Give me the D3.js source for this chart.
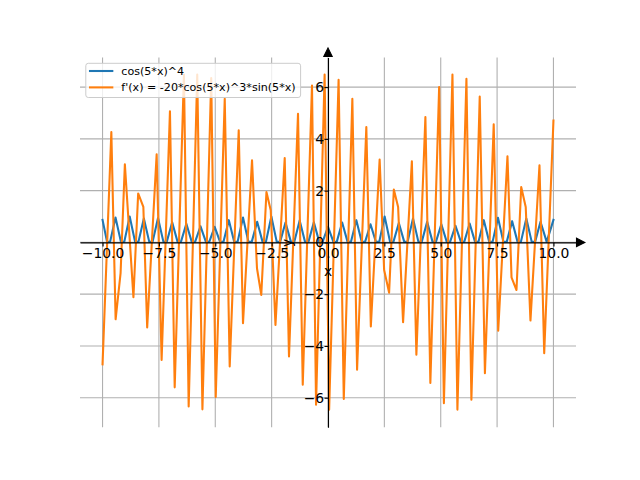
<!DOCTYPE html>
<html><head><meta charset="utf-8">
<script src="https://cdn.jsdelivr.net/npm/d3@7"></script>
<style>body{margin:0;background:#fff} svg{display:block} text{font-family:"DejaVu Sans",sans-serif}</style>
</head><body><svg id="c" width="640" height="480"></svg>
<script>
// ---- data ----
const blueX = [-10,-9.80,-9.665,-9.425,-9.185,-9.036,-8.796,-8.556,-8.408,-8.168,-7.928,-7.78,-7.54,-7.30,-7.152,-6.912,-6.672,-6.523,-6.283,-6.043,-5.895,-5.655,-5.415,-5.267,-5.027,-4.787,-4.638,-4.398,-4.158,-4.01,-3.77,-3.53,-3.382,-3.142,-2.902,-2.753,-2.513,-2.273,-2.125,-1.885,-1.645,-1.497,-1.257,-1.017,-0.868,-0.628,-0.388,-0.24,0,0.24,0.388,0.628,0.868,1.017,1.257,1.497,1.645,1.885,2.125,2.273,2.513,2.753,2.902,3.142,3.382,3.53,3.77,4.01,4.158,4.398,4.638,4.787,5.027,5.267,5.415,5.655,5.895,6.043,6.283,6.523,6.672,6.912,7.152,7.30,7.54,7.78,7.928,8.168,8.408,8.556,8.796,9.036,9.185,9.425,9.70,10];
const blueY = [0.87,0.02,0.02,0.96,0.02,0.02,1.0,0.02,0.02,0.92,0.02,0.02,0.94,0.02,0.02,0.78,0.02,0.02,0.72,0.02,0.02,0.62,0.02,0.02,0.60,0.02,0.02,0.86,0.02,0.02,0.96,0.02,0.02,0.80,0.02,0.02,1.0,0.02,0.02,0.77,0.02,0.02,0.85,0.02,0.02,0.78,0.02,0.02,0.60,0.02,0.02,0.77,0.02,0.02,0.86,0.02,0.02,0.70,0.02,0.02,1.0,0.02,0.02,0.75,0.02,0.02,0.92,0.02,0.02,0.80,0.02,0.02,0.70,0.02,0.02,0.64,0.02,0.02,0.73,0.02,0.02,0.86,0.02,0.02,0.95,0.02,0.02,0.82,0.02,0.02,0.92,0.02,0.02,0.80,0.02,0.87];
const orangeX = [-10,-9.61,-9.42,-9.20,-9.01,-8.63,-8.42,-8.19,-8.02,-7.60,-7.38,-7.01,-6.80,-6.39,-6.18,-5.80,-5.57,-5.18,-4.98,-4.58,-4.36,-3.96,-3.77,-3.37,-3.15,-2.96,-2.73,-2.54,-2.33,-1.92,-1.73,-1.33,-1.12,-0.71,-0.53,-0.15,0.05,0.47,0.70,1.08,1.29,1.70,1.90,2.29,2.49,2.71,2.92,3.11,3.33,3.72,3.92,4.32,4.54,4.93,5.14,5.52,5.74,6.14,6.36,6.73,6.96,7.35,7.55,7.96,8.14,8.36,8.57,8.77,8.98,9.38,9.59,10];
const orangeY = [-4.71,4.26,-2.97,-1.19,3.02,-2.12,1.89,1.37,-3.29,3.40,-4.54,5.07,-5.60,6.49,-6.34,6.49,-6.45,6.35,-5.97,5.55,-4.79,4.33,-3.12,3.17,-1.00,-2.03,1.95,1.24,-3.19,3.26,-4.41,4.97,-5.50,6.06,-6.27,6.49,-6.46,6.28,-6.05,5.55,-4.92,4.46,-3.25,3.20,-1.07,-1.94,2.04,1.37,-3.08,3.13,-4.34,4.84,-5.43,6.00,-6.21,6.49,-6.46,6.32,-6.08,5.64,-5.05,4.56,-3.41,3.33,-1.35,-1.84,2.14,1.37,-3.02,2.98,-4.28,4.71];
const xTicks = [-10,-7.5,-5,-2.5,0,2.5,5,7.5,10];
const yTicks = [-6,-4,-2,0,2,4,6];
const seriesNames = ["cos(5*x)^4", "f'(x) = -20*cos(5*x)^3*sin(5*x)"];
const seriesColors = ["#1f77b4", "#ff7f0e"];

const svg = d3.select('#c');
const L = 80, R = 576, T = 57.6, B = 427.2;
const x = d3.scaleLinear().domain([-11, 11]).range([L, R]);
const y = d3.scaleLinear().domain([-7.14, 7.14]).range([B, T]);

// grid
const grid = svg.append('g');
grid.selectAll('line.v').data(xTicks).join('line').attr('class','v')
  .attr('x1', d => x(d)).attr('x2', d => x(d)).attr('y1', T).attr('y2', B)
  .attr('stroke', '#b0b0b0').attr('stroke-width', 1.1);
grid.selectAll('line.h').data(yTicks).join('line').attr('class','h')
  .attr('x1', L).attr('x2', R).attr('y1', d => y(d)).attr('y2', d => y(d))
  .attr('stroke', '#b0b0b0').attr('stroke-width', 1.1);

// lines
const line = (X, Y) => d3.line().x(i => x(X[i])).y(i => y(Y[i]))(d3.range(X.length));
svg.append('path').attr('d', line(blueX, blueY)).attr('fill','none')
  .attr('stroke', seriesColors[0]).attr('stroke-width', 2.08).attr('stroke-linejoin','round').attr('stroke-linecap','square');
svg.append('path').attr('d', line(orangeX, orangeY)).attr('fill','none')
  .attr('stroke', seriesColors[1]).attr('stroke-width', 2.08).attr('stroke-linejoin','round').attr('stroke-linecap','square');

// axes through zero
const xAxis = d3.axisBottom(x).tickValues(xTicks).tickFormat(d3.format('.1f')).tickSize(4).tickSizeOuter(0).tickPadding(1.3);
const gx = svg.append('g').attr('transform', `translate(0,${y(0)})`).call(xAxis);
const yAxis = d3.axisLeft(y).tickValues(yTicks).tickFormat(d3.format('d')).tickSize(3.5).tickSizeOuter(0).tickPadding(0.3);
const gy = svg.append('g').attr('transform', `translate(${x(0)},0)`).call(yAxis);
[gx, gy].forEach(g => {
  g.attr('font-family', null).attr('font-size', null);
  g.select('.domain').attr('stroke', '#000').attr('stroke-width', 1.1);
  g.selectAll('.tick line').attr('stroke', '#000').attr('stroke-width', 1.1);
  g.selectAll('.tick text').attr('fill', '#000').style('font-size', '13.9px').style('font-family', '"DejaVu Sans"');
});

// arrow heads
svg.append('path').attr('d', `M${R+0.5},${y(0)-4.2}L${R+0.5},${y(0)+4.2}L${R+8.8},${y(0)}Z`)
  .attr('fill', '#000').attr('stroke', '#000').attr('stroke-width', 1.1).attr('stroke-linejoin','miter');
svg.append('path').attr('d', `M${x(0)-4.2},${T-1.2}L${x(0)+4.2},${T-1.2}L${x(0)},${T-9.6}Z`)
  .attr('fill', '#000').attr('stroke', '#000').attr('stroke-width', 1.1).attr('stroke-linejoin','miter');

// axis labels
svg.append('text').attr('x', x(0)).attr('y', 275.5).attr('text-anchor', 'middle')
  .style('font-size', '13.9px').text('x');
svg.append('text').attr('transform', `translate(292,${y(0)+0.5}) rotate(-90)`).attr('text-anchor', 'middle')
  .style('font-size', '13.9px').text('y');

// legend
const lg = svg.append('g');
lg.append('rect').attr('x', 85.8).attr('y', 63.3).attr('width', 214.8).attr('height', 34.2).attr('rx', 2.5)
  .attr('fill', '#fff').attr('fill-opacity', 0.8).attr('stroke', '#cccccc').attr('stroke-width', 1);
const rows = [71, 87.4];
seriesNames.forEach((name, i) => {
  lg.append('line').attr('x1', 90).attr('x2', 112.3).attr('y1', rows[i]).attr('y2', rows[i])
    .attr('stroke', seriesColors[i]).attr('stroke-width', 2.08).attr('stroke-linecap','square');
  lg.append('text').attr('x', 121.3).attr('y', rows[i] + 4).style('font-size', '11.1px').text(name);
});
</script></body></html>
